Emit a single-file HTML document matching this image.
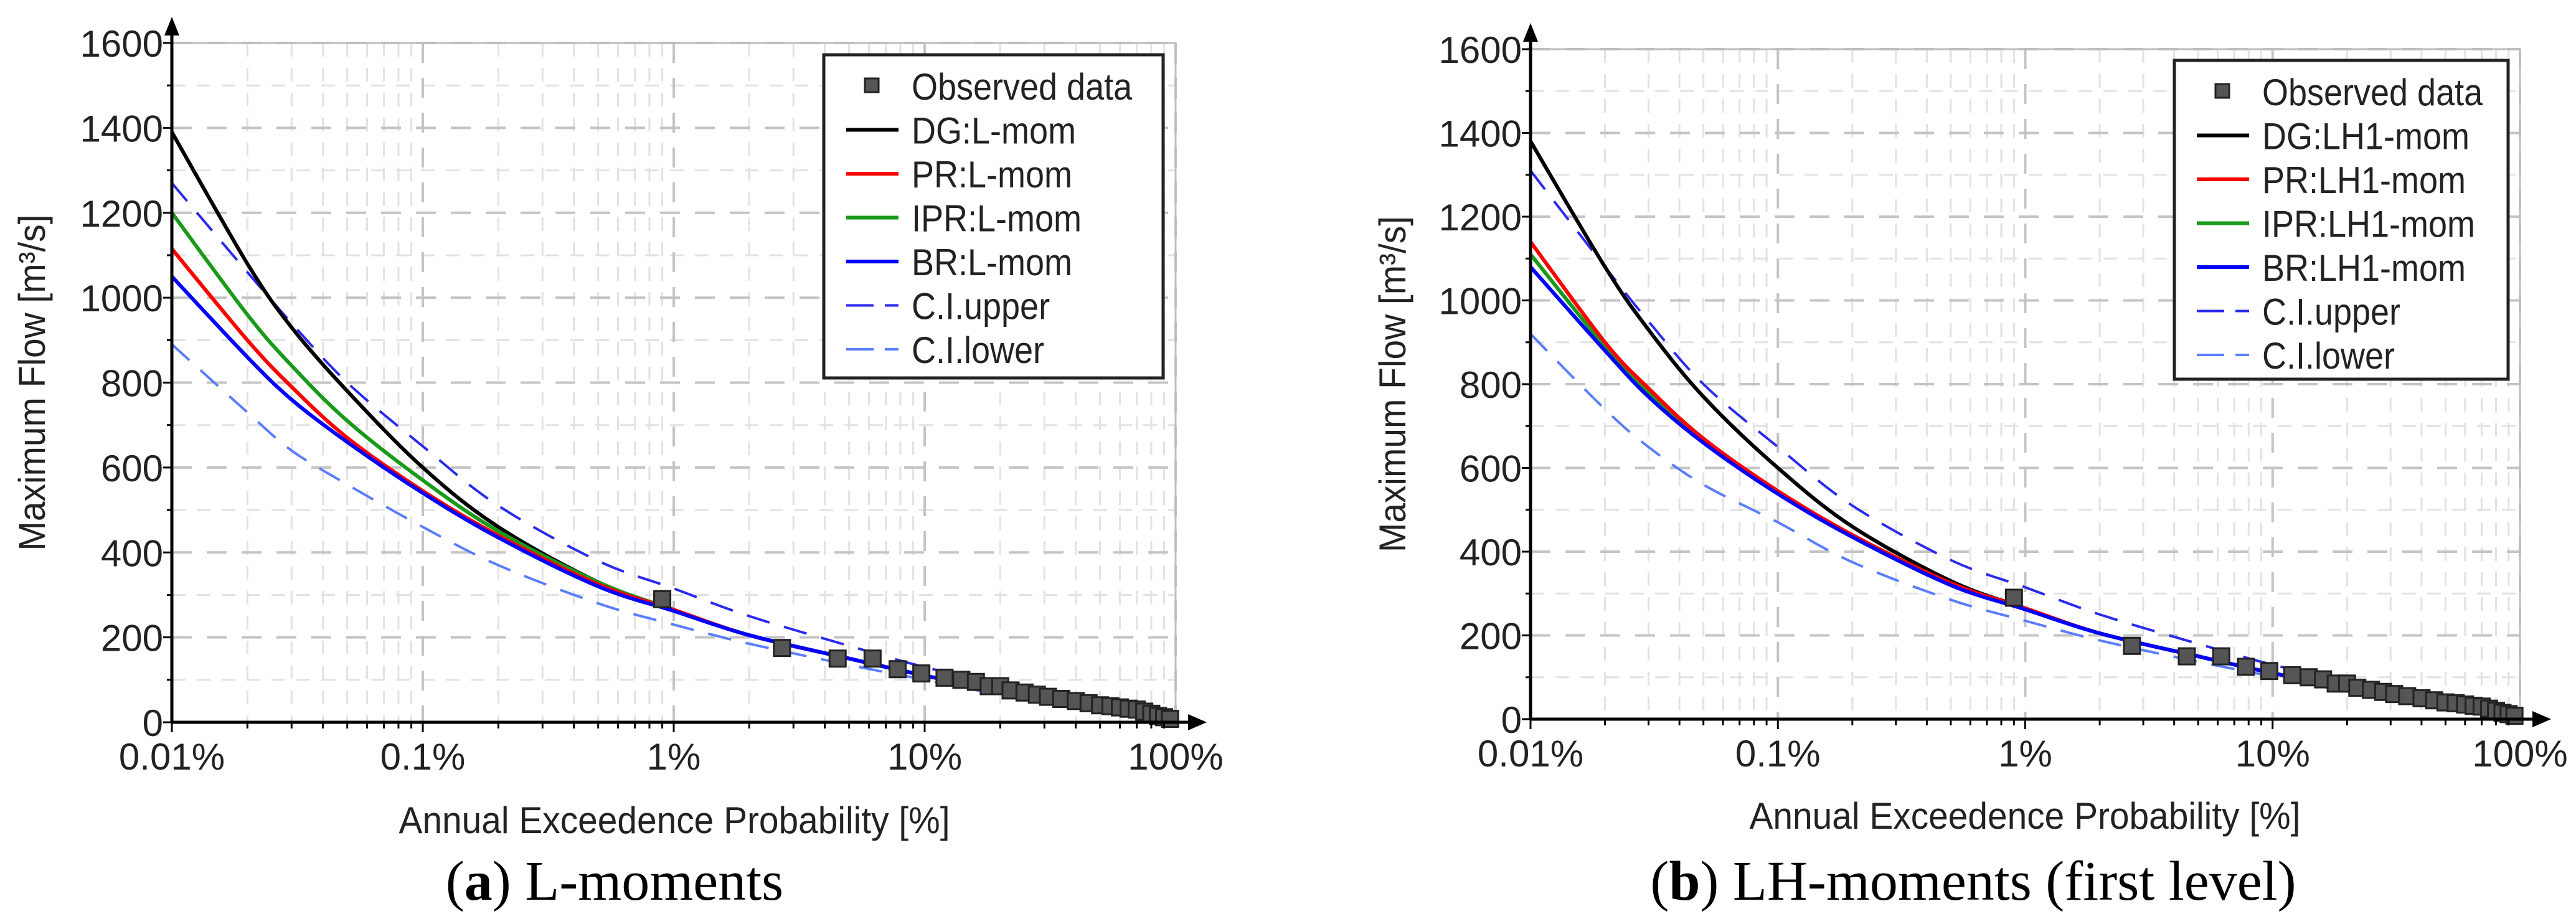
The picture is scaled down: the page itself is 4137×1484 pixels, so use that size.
<!DOCTYPE html>
<html><head><meta charset="utf-8">
<style>
html,body{margin:0;padding:0;background:#fff;}
svg{display:block;font-family:"Liberation Sans",Arial,sans-serif;}
</style></head>
<body>
<svg id="fig" width="4137" height="1484" viewBox="0 0 4137 1484" xmlns="http://www.w3.org/2000/svg"></svg>
<script>
// ---- data ----
const aep = [0.01,0.02,0.03,0.05,0.1,0.2,0.5,1,2,5,10,20,50,100];
const yTicks = [0,200,400,600,800,1000,1200,1400,1600];
const xTickVals = [0.01,0.1,1,10,100];
const xTickLabels = ["0.01%","0.1%","1%","10%","100%"];
// panel a
const aDG  = [1390,1080,930,780,600,460,330,265,205,150,110,75,35,5];
const aPR  = [1115,900,790,670,545,440,325,265,205,150,110,75,35,5];
const aIPR = [1200,960,840,710,570,450,330,265,205,150,110,75,35,5];
const aBR  = [1050,860,760,660,540,435,320,262,205,150,110,75,35,5];
const aUp  = [1270,1060,940,800,650,510,380,315,250,180,130,90,45,10];
const aLo  = [890,730,640,560,460,370,280,230,185,135,100,65,25,0];
// panel b
const bDG  = [1380,1080,930,770,600,460,330,265,205,150,110,75,35,5];
const bPR  = [1140,900,790,670,545,440,325,265,205,150,110,75,35,5];
const bIPR = [1110,890,780,665,540,437,323,264,205,150,110,75,35,5];
const bBR  = [1080,880,770,660,538,435,320,262,205,150,110,75,35,5];
const bUp  = [1310,1080,950,800,650,510,380,315,250,180,130,90,45,10];
const bLo  = [920,740,650,560,470,375,285,235,188,137,102,66,26,0];
// observed
const obsP = [0.9,2.7,4.5,6.2,7.8,9.7,12,14,16,18,20,22,25,28,31,35,40,45,50,55,60,65,70,75,80,85,90,95];
const obsQ = [290,175,150,150,125,115,105,100,95,85,85,75,70,65,60,55,50,45,40,38,35,32,30,25,20,15,12,8];

const NS="http://www.w3.org/2000/svg";
const svg=document.getElementById('fig');
function mk(tag,attrs,parent){const e=document.createElementNS(NS,tag);for(const k in attrs)e.setAttribute(k,attrs[k]);(parent||svg).appendChild(e);return e;}
function smooth(pts){
  let d='M'+pts[0][0].toFixed(1)+','+pts[0][1].toFixed(1);
  for(let i=0;i<pts.length-1;i++){
    const p0=pts[Math.max(0,i-1)],p1=pts[i],p2=pts[i+1],p3=pts[Math.min(pts.length-1,i+2)];
    const c1=[p1[0]+(p2[0]-p0[0])/6,p1[1]+(p2[1]-p0[1])/6];
    const c2=[p2[0]-(p3[0]-p1[0])/6,p2[1]-(p3[1]-p1[1])/6];
    d+='C'+c1[0].toFixed(1)+','+c1[1].toFixed(1)+' '+c2[0].toFixed(1)+','+c2[1].toFixed(1)+' '+p2[0].toFixed(1)+','+p2[1].toFixed(1);
  }
  return d;
}

function panel(cfg){
  const g=mk('g',{});
  
  
  const X=p=>cfg.x0+(Math.log10(p)+2)/4*(cfg.x1-cfg.x0);
  const Y=v=>cfg.y0-(v/1600)*(cfg.y0-cfg.y1);
  for(let d=-2;d<2;d++)for(let m=2;m<=9;m++){const x=X(m*Math.pow(10,d));
    const l=mk('line',{x1:x,x2:x,y1:cfg.y1,y2:cfg.y0,stroke:'#e2e2e2','stroke-width':3,'stroke-dasharray':'22 18'},g);
    }
  for(let v=100;v<1600;v+=200){const y=Y(v);
    const l=mk('line',{x1:cfg.x0,x2:cfg.x1,y1:y,y2:y,stroke:'#e2e2e2','stroke-width':3,'stroke-dasharray':'22 18'},g);
    }
  xTickVals.forEach(p=>{const x=X(p);
    const l=mk('line',{x1:x,x2:x,y1:cfg.y1,y2:cfg.y0,stroke:'#c4c4c4','stroke-width':4,'stroke-dasharray':'32 24'},g);
    });
  yTicks.forEach(v=>{if(v===0)return;const y=Y(v);
    const l=mk('line',{x1:cfg.x0,x2:cfg.x1,y1:y,y2:y,stroke:'#c4c4c4','stroke-width':4,'stroke-dasharray':'32 24'},g);
    });
  const fr=mk('path',{d:`M${cfg.x0},${cfg.y1}H${cfg.x1}V${cfg.y0}`,fill:'none',stroke:'#bdbdbd','stroke-width':3},g);
  
  const series=[[cfg.lo,'#5a7dff',true],[cfg.up,'#2a2aee',true],[cfg.dg,'#000',false],[cfg.ipr,'#1a9a1a',false],[cfg.pr,'#ff0000',false],[cfg.br,'#0000ff',false]];
  const names=['ci-lower-line','ci-upper-line','dg-line','ipr-line','pr-line','br-line'];
  series.forEach((s,i)=>{
    const d=smooth(aep.map((p,j)=>[X(p),Y(s[0][j])]));
    const a={d:d,fill:'none',stroke:s[1],'stroke-width':s[2]?4:6,'stroke-linejoin':'round'};
    if(s[2])a['stroke-dasharray']='38 24';
    const p=mk('path',a,g);
    
  });
  obsP.forEach((p,i)=>{const r=mk('rect',{x:X(p)-13,y:Y(obsQ[i])-13,width:26,height:26,fill:'#555',stroke:'#222','stroke-width':3},g);
    });
  const ax=mk('path',{d:`M${cfg.x0},${cfg.y0}H${cfg.x1+22}M${cfg.x0},${cfg.y0}V${cfg.y1-18}`,stroke:'#000','stroke-width':5,fill:'none'},g);
  
  const ar1=mk('path',{d:`M${cfg.x1+50},${cfg.y0}l-30,-13v26z`,fill:'#000'},g);
  
  const ar2=mk('path',{d:`M${cfg.x0},${cfg.y1-42}l-12,30h24z`,fill:'#000'},g);
  
  for(let v=0;v<=1600;v+=100){const y=Y(v);const len=v%200===0?14:8;
    const t=mk('line',{x1:cfg.x0-len,x2:cfg.x0,y1:y,y2:y,stroke:'#000','stroke-width':3},g);
    }
  yTicks.forEach(v=>{const t=mk('text',{x:cfg.x0-14,y:Y(v)+22,'text-anchor':'end','font-size':60,fill:'#222'},g);
    t.textContent=v;});
  for(let d=-2;d<2;d++)for(let m=1;m<=9;m++){const x=X(m*Math.pow(10,d));
    const t=mk('line',{x1:x,x2:x,y1:cfg.y0,y2:cfg.y0+(m===1?16:10),stroke:'#000','stroke-width':3},g);
    }
  xTickVals.forEach((p,i)=>{const t=mk('text',{x:X(p),y:cfg.y0+76,'text-anchor':'middle','font-size':60,fill:'#222'},g);
    t.textContent=xTickLabels[i];});
  const xt=mk('text',{x:cfg.xtx,y:cfg.xty,'text-anchor':'middle','font-size':60,fill:'#222',textLength:885,lengthAdjust:'spacingAndGlyphs'},g);
  xt.textContent='Annual Exceedence Probability [%]';
  const yt=mk('text',{x:0,y:0,'text-anchor':'middle','font-size':60,fill:'#222',textLength:540,lengthAdjust:'spacingAndGlyphs',transform:`translate(${cfg.ytx},${(cfg.y0+cfg.y1)/2}) rotate(-90)`},g);
  yt.textContent='Maximum Flow [m³/s]';
  const lg=mk('g',{},g);
  const lb=mk('rect',{x:cfg.lx,y:cfg.ly,width:cfg.lw,height:cfg.lh,fill:'#fff',stroke:'#222','stroke-width':5},lg);
  
  const items=[['sq','#555','Observed data'],['line','#000',cfg.lbl[0]],['line','#ff0000',cfg.lbl[1]],['line','#1a9a1a',cfg.lbl[2]],['line','#0000ff',cfg.lbl[3]],['dash','#2a2aee','C.I.upper'],['dash','#5a7dff','C.I.lower']];
  items.forEach((it,i)=>{const cy=cfg.ly+50+i*70.5;const sx=cfg.lx+36;
    if(it[0]==='sq'){const r=mk('rect',{x:sx+30,y:cy-12,width:22,height:22,fill:'#555',stroke:'#222','stroke-width':3},lg);}
    else{const a={x1:sx,x2:sx+84,y1:cy,y2:cy,stroke:it[1],'stroke-width':it[0]==='dash'?4:6};if(it[0]==='dash')a['stroke-dasharray']='44 18';
      const l=mk('line',a,lg);}
    const t=mk('text',{x:cfg.lx+141,y:cy+22,'font-size':60,fill:'#222',transform:`translate(${cfg.lx+141},0) scale(0.9,1) translate(${-(cfg.lx+141)},0)`},lg);t.textContent=it[2];
    });
  const cp=mk('text',{x:cfg.cx,y:1445,'text-anchor':'middle','font-size':90,fill:'#000','font-family':'"Liberation Serif",serif'},g);
  
  const ts1=mk('tspan',{},cp);ts1.textContent='(';
  const ts2=mk('tspan',{'font-weight':'bold'},cp);ts2.textContent=cfg.cl;
  const ts3=mk('tspan',{},cp);ts3.textContent=') '+cfg.ct;
}
panel({id:'panel-a',x0:276,x1:1888,y0:1160,y1:69,dg:aDG,pr:aPR,ipr:aIPR,br:aBR,up:aUp,lo:aLo,
  lx:1323,ly:88,lw:545,lh:519,lbl:['DG:L-mom','PR:L-mom','IPR:L-mom','BR:L-mom'],
  xtx:1083,xty:1338,ytx:72,cx:987,cl:'a',ct:'L-moments'});
panel({id:'panel-b',x0:2458,x1:4047,y0:1155,y1:79,dg:bDG,pr:bPR,ipr:bIPR,br:bBR,up:bUp,lo:bLo,
  lx:3492,ly:97,lw:536,lh:512,lbl:['DG:LH1-mom','PR:LH1-mom','IPR:LH1-mom','BR:LH1-mom'],
  xtx:3252,xty:1331,ytx:2257,cx:3169,cl:'b',ct:'LH-moments (first level)'});
</script>
</body></html>
